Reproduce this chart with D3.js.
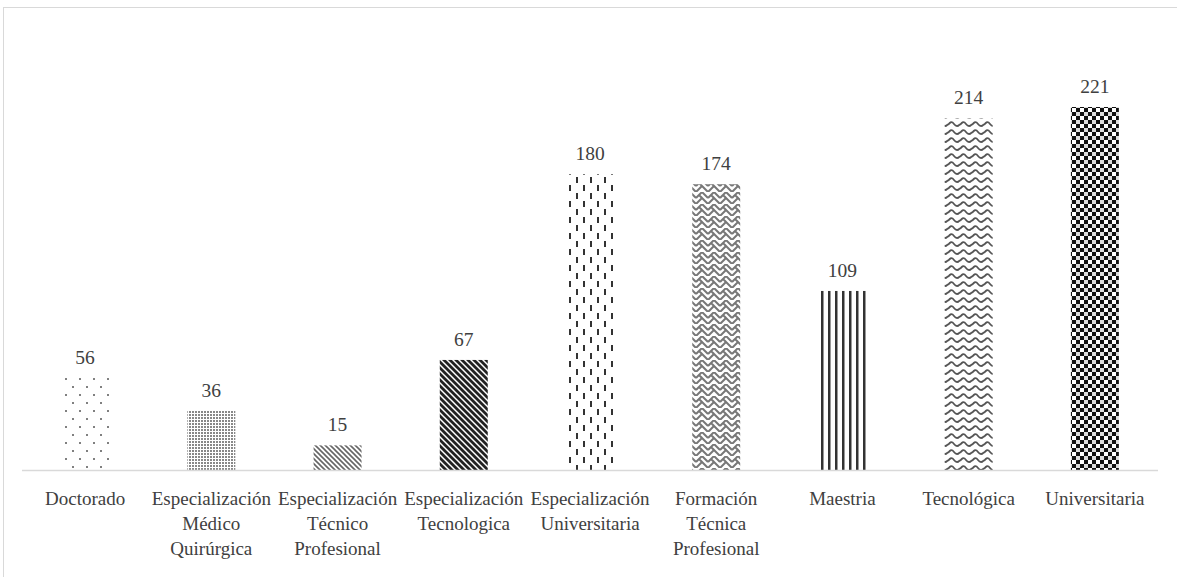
<!DOCTYPE html>
<html><head><meta charset="utf-8">
<script src="https://cdn.jsdelivr.net/npm/d3@7"></script>
<style>body{margin:0;background:#fff}svg{display:block}</style>
</head><body>
<script>
const categories = ["Doctorado","Especialización Médico Quirúrgica","Especialización Técnico Profesional","Especialización Tecnologica","Especialización Universitaria","Formación Técnica Profesional","Maestria","Tecnológica","Universitaria"];
const labelLines = [["Doctorado"],["Especialización","Médico","Quirúrgica"],["Especialización","Técnico","Profesional"],["Especialización","Tecnologica"],["Especialización","Universitaria"],["Formación","Técnica","Profesional"],["Maestria"],["Tecnológica"],["Universitaria"]];
const values = [56,36,15,67,180,174,109,214,221];

const W=1177,H=577;
const FONT='"Liberation Serif"';
const svg=d3.select("body").append("svg").attr("width",W).attr("height",H);
const defs=svg.append("defs");

function pat(id,w,h,draw){const p=defs.append("pattern").attr("id",id).attr("patternUnits","userSpaceOnUse").attr("width",w).attr("height",h);p.append("rect").attr("width",w).attr("height",h).attr("fill","#fff");draw(p);}
pat("p0",14,16,p=>{[[3,3],[10,11]].forEach(([x,y])=>p.append("circle").attr("cx",x).attr("cy",y).attr("r",1).attr("fill","#555"));});
pat("p1",3,3,p=>{p.append("rect").attr("x",0).attr("y",0).attr("width",2).attr("height",2).attr("fill","#888");});
pat("p2",5,5,p=>{p.append("path").attr("d","M-1,-1 L6,6 M-1,4 L1,6 M4,-1 L6,1").attr("stroke","#666").attr("stroke-width",1.6);});
pat("p3",6,6,p=>{p.append("path").attr("d","M-1,-1 L7,7 M-1,5 L1,7 M5,-1 L7,1").attr("stroke","#222").attr("stroke-width",2.8);});
pat("p4",14,16,p=>{p.append("rect").attr("x",2).attr("y",1).attr("width",2).attr("height",6).attr("fill","#333");p.append("rect").attr("x",9).attr("y",9).attr("width",2).attr("height",6).attr("fill","#333");});
pat("p5",12,12,p=>{p.append("path").attr("d","M0,6 L6,0 L12,6 M0,12 L6,6 L12,12 M3,3 L9,9").attr("stroke","#777").attr("stroke-width",2).attr("fill","none");});
pat("p6",7,10,p=>{p.append("rect").attr("x",2).attr("y",0).attr("width",2.5).attr("height",10).attr("fill","#333");});
pat("p7",12,8,p=>{p.append("path").attr("d","M0,5 Q3,0 6,4 T12,4").attr("stroke","#555").attr("stroke-width",1.8).attr("fill","none");});
pat("p8",8,8,p=>{p.append("rect").attr("width",4).attr("height",4).attr("fill","#111");p.append("rect").attr("x",4).attr("y",4).attr("width",4).attr("height",4).attr("fill","#111");p.append("rect").attr("x",4).attr("y",0).attr("width",4).attr("height",4).attr("fill","#ddd");});

svg.append("rect").attr("x",3.5).attr("y",7.5).attr("width",W+10).attr("height",H+10).attr("fill","none").attr("stroke","#d9d9d9").attr("stroke-width",1);

const x=d3.scaleBand().domain(categories).range([22,1158]).paddingInner(0.62).paddingOuter(0.31);
const y=d3.scaleLinear().domain([0,221]).range([470,107]);

svg.append("g").selectAll("rect").data(values).join("rect")
 .attr("x",(d,i)=>x(categories[i])).attr("width",x.bandwidth())
 .attr("y",d=>y(d)).attr("height",d=>y(0)-y(d))
 .attr("fill",(d,i)=>`url(#p${i})`);

svg.append("line").attr("x1",22).attr("x2",1158).attr("y1",470.5).attr("y2",470.5).attr("stroke","#d9d9d9").attr("stroke-width",1.5);

svg.append("g").selectAll("text").data(values).join("text")
 .attr("x",(d,i)=>x(categories[i])+x.bandwidth()/2).attr("y",d=>y(d)-14)
 .attr("text-anchor","middle").style("font-family",FONT).style("font-size","19.5px").attr("fill","#404040")
 .text(d=>d);

const lg=svg.append("g");
labelLines.forEach((lines,i)=>{
  const cx=x(categories[i])+x.bandwidth()/2;
  const t=lg.append("text").attr("x",cx).attr("y",505)
   .attr("text-anchor","middle").style("font-family",FONT).style("font-size","19px").attr("fill","#404040");
  lines.forEach((l,j)=>t.append("tspan").attr("x",cx).attr("dy",j?25:0).text(l));
});
</script>
</body></html>
